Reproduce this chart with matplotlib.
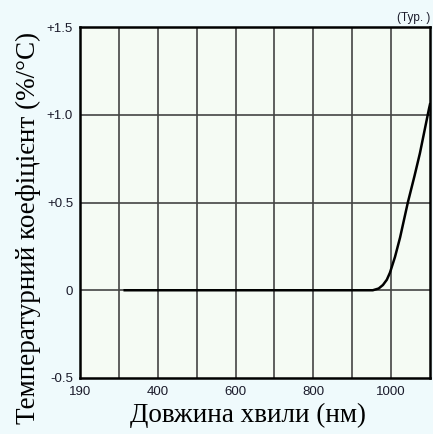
import numpy as np
import matplotlib
matplotlib.use('Agg')
import matplotlib.pyplot as plt

# wavelength (nm) vs temperature coefficient (%/°C)
wl = [315, 400, 500, 600, 700, 800, 900, 953, 968, 979, 989, 997, 1010, 1023, 1043, 1060, 1074, 1097, 1100]
coef = [0.0, 0.0, 0.0, 0.0, 0.0, 0.0, 0.0, 0.0, 0.01, 0.03, 0.06, 0.10, 0.19, 0.30, 0.50, 0.65, 0.78, 1.03, 1.06]

xticks = [200, 400, 600, 800, 1000]
xtick_labels = ['190', '400', '600', '800', '1000']
yticks = [-0.5, 0, 0.5, 1.0, 1.5]
ytick_labels = ['-0.5', '0', '+0.5', '+1.0', '+1.5']

fig = plt.figure(figsize=(4.33, 4.34), dpi=100, facecolor='#effafc')
ax = fig.add_axes([80 / 433, 1 - 378 / 434, 350 / 433, 351 / 434])
ax.set_facecolor('#f5fbf4')

ax.plot(wl, coef, color='black', lw=1.8, zorder=3)

ax.set_xlim(200, 1100)
ax.set_ylim(-0.5, 1.5)
for x in range(300, 1100, 100):
    ax.axvline(x, color='#444444', lw=1.2, zorder=1)
for y in [0, 0.5, 1.0]:
    ax.axhline(y, color='#444444', lw=1.2, zorder=1)

ax.set_xticks(xticks)
ax.set_xticklabels(xtick_labels, family='Liberation Sans', fontsize=9.5, color='#1a1a2a')
ax.set_yticks(yticks)
ax.set_yticklabels(ytick_labels, family='Liberation Sans', fontsize=9.5, color='#1a1a2a')
ax.tick_params(axis='x', length=0, pad=6)
ax.tick_params(axis='y', length=0, pad=5)

for s in ax.spines.values():
    s.set_linewidth(1.8)
    s.set_color('black')

ax.set_xlabel('Довжина хвили (нм)', family='Liberation Serif', fontsize=19.5)
ax.xaxis.set_label_coords((248 - 80) / 350, (378 - 415) / 351, transform=ax.transAxes)
ax.xaxis.label.set_va('center')
ax.set_ylabel('Температурний коефіцієнт (%/°C)', family='Liberation Serif', fontsize=19.5)
ax.yaxis.label.set_va('center')
ax.yaxis.set_label_coords(-52 / 350, (378 - 228) / 351, transform=ax.transAxes)

ax.text(1.0, 1.008, '(Typ. )', transform=ax.transAxes, ha='right', va='bottom',
        family='Liberation Sans', fontsize=8.5, color='#1a1a2a')

fig.savefig('out.png', dpi=100, facecolor=fig.get_facecolor())
